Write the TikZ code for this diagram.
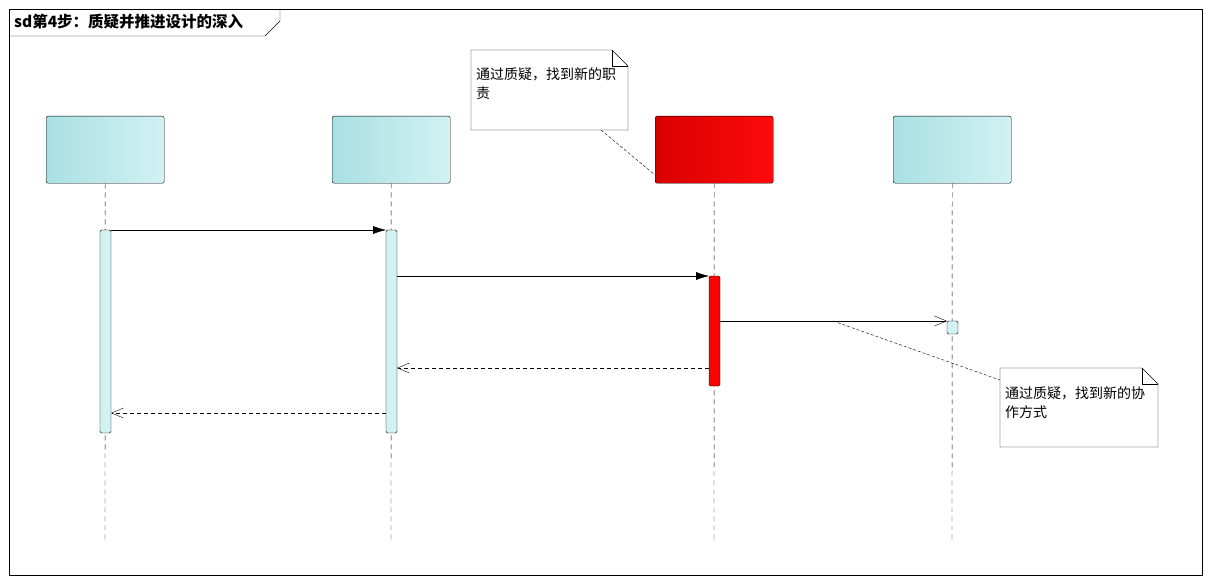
\documentclass[tikz,border=0pt]{standalone}
\usepackage{fontspec}
\newfontfamily\cjk{Noto Sans CJK SC}
\usetikzlibrary{arrows.meta}
\definecolor{cyA}{HTML}{A9E0E4}
\definecolor{cyB}{HTML}{D2F1F2}
\definecolor{rdA}{HTML}{D80000}
\definecolor{rdB}{HTML}{FF0A0A}
\tikzset{
 x=1pt,y=-1pt,line width=1pt,
 head/.style={draw=black,rounded corners=2pt,left color=cyA,right color=cyB,minimum width=118pt,minimum height=67pt,anchor=north west,inner sep=0pt},
 redhead/.style={head,left color=rdA,right color=rdB},
 life/.style={black,dash pattern=on 5pt off 4pt},
 act/.style={draw=black,fill=cyB,rounded corners=1.5pt},
 msg/.style={-{Latex[length=13pt,width=8pt]},black},
 ret/.style={-{Straight Barb[length=12pt,width=10pt]},black,dash pattern=on 4pt off 3pt},
 async/.style={-{Straight Barb[length=12pt,width=10pt]},black},
 note/.style={draw=black,fill=white},
 txt/.style={font=\cjk\fontsize{14pt}{19pt}\selectfont,align=left,anchor=north west,inner sep=0pt},
}
\begin{document}
\begin{tikzpicture}
\useasboundingbox (0,0) rectangle (1210,583);
\fill[white] (0,0) rectangle (1210,583);
\draw[black] (9,9) rectangle (1202,575);
\draw[black] (9,36) -- (265,36) -- (280,21) -- (280,9);
\node[txt,font=\cjk\bfseries\fontsize{15.5pt}{17pt}\selectfont,anchor=west] (title) at (14,22) {sd第4步：质疑并推进设计的深入};
% heads
\node[head] (h1) at (46,116) {};
\node[head] (h2) at (332,116) {};
\node[redhead] (h3) at (655,116) {};
\node[head] (h4) at (893,116) {};
\foreach \n/\x in {h1/105,h2/391,h3/714,h4/952}{\draw[life] (\n.south) -- (\x,540) coordinate (\n e);}
% activations
\draw[act] (100,230) rectangle (111,433);
\draw[act] (386,230) rectangle (397,433);
\draw[act,fill=red] (709,276) rectangle (720,386);
\draw[act] (947,321) rectangle (958,334);
% messages
\coordinate (m1a) at (111,230); \coordinate (m1b) at (386,230);
\coordinate (m2a) at (397,276); \coordinate (m2b) at (709,276);
\coordinate (m3a) at (720,321); \coordinate (m3b) at (947,321);
\coordinate (r1a) at (709,368); \coordinate (r1b) at (397,368);
\coordinate (r2a) at (386,413); \coordinate (r2b) at (111,413);
\draw[msg] (m1a) -- (m1b);
\draw[msg] (m2a) -- (m2b);
\draw[async] (m3a) -- (m3b);
\draw[ret] (r1a) -- (r1b);
\draw[ret] (r2a) -- (r2b);
% notes
\draw[note] (471,50) -- (612,50) -- (628,66) -- (628,130) -- (471,130) -- cycle;
\draw[black] (612,50) -- (612,66) -- (628,66);
\node[txt] (n1) at (476,67) {通过质疑，找到新的职\\责};
\draw[note] (1000,368) -- (1142,368) -- (1158,384) -- (1158,447) -- (1000,447) -- cycle;
\draw[black] (1142,368) -- (1142,384) -- (1158,384);
\node[txt] (n2) at (1005,386) {通过质疑，找到新的协\\作方式};
\draw[dash pattern=on 3pt off 2pt] (601,130) -- (655,175);
\draw[dash pattern=on 3pt off 2pt] (833,321) -- (1000,380);
\end{tikzpicture}
\end{document}
